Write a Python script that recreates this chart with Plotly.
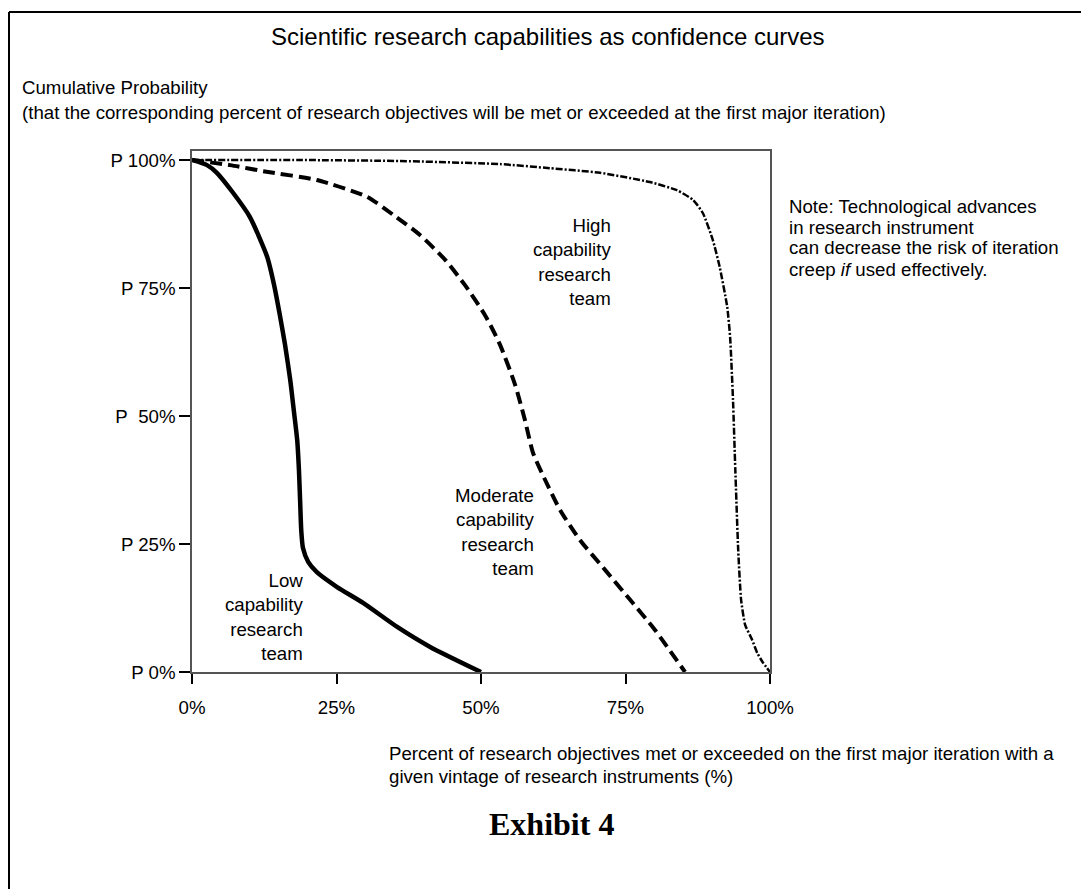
import plotly.graph_objects as go

# ---- data ----
low_x = [0, 2.6, 4.3, 7.1, 10.0, 13.0, 14.2, 15.2, 16.1, 17.0, 17.6, 18.2, 18.5, 18.7, 18.9, 19.2, 20.1, 21.6, 25.1, 29.6, 35.5, 41.2, 50.0]
low_y = [100, 99.0, 97.5, 93.6, 88.9, 81.1, 75.6, 69.7, 63.9, 57.0, 51.2, 45.3, 39.5, 33.6, 27.7, 24.2, 21.5, 19.5, 16.6, 13.5, 8.8, 4.9, 0]

mod_x = [0, 6.6, 12.9, 21.6, 30.3, 34.8, 39.4, 43.8, 47.2, 50.7, 53.3, 55.9, 57.6, 59.0, 61.1, 63.7, 67.1, 71.5, 75.8, 80.1, 85.3]
mod_y = [100, 99.0, 97.7, 96.1, 92.8, 89.3, 85.4, 80.5, 75.6, 69.7, 63.9, 56.1, 49.2, 42.8, 37.5, 31.6, 25.8, 19.9, 14.1, 8.2, 0]

high_x = [0, 18.7, 36.0, 53.3, 61.9, 70.6, 79.2, 83.9, 86.7, 88.4, 90.1, 91.3, 92.6, 93.1, 93.6, 94.0, 94.5, 95.0, 95.7, 96.9, 97.8, 98.8, 100]
high_y = [100, 100, 99.8, 99.2, 98.4, 97.5, 95.7, 94.1, 92.2, 89.6, 84.4, 79.1, 71.3, 65.4, 53.1, 39.5, 23.8, 14.1, 9.2, 6.3, 3.7, 1.8, 0]

x_ticks = [0, 25, 50, 75, 100]
x_tick_text = ["0%", "25%", "50%", "75%", "100%"]
y_ticks = [0, 25, 50, 75, 100]
y_tick_text = ["P 0%", "P 25%", "P\u00a0 50%", "P 75%", "P 100%"]

title_text = "Scientific research capabilities as confidence curves"
ylab_lines = ["Cumulative Probability",
              "(that the corresponding percent of research objectives will be met or exceeded at the first major iteration)"]
xlab_lines = ["Percent of research objectives met or exceeded on the first major iteration with a",
              "given vintage of research instruments (%)"]
note_lines = ["Note: Technological advances", "in research instrument",
              "can decrease the risk of iteration", "creep <i>if</i> used effectively."]
exhibit_text = "<b>Exhibit 4</b>"
label_high = "High<br>capability<br>research<br>team"
label_mod = "Moderate<br>capability<br>research<br>team"
label_low = "Low<br>capability<br>research<br>team"

# ---- layout geometry (screen pixels; page body has an 8px margin) ----
W, H = 1089, 889
OFF = 8
SL, SR, ST, SB = 192, 770, 151, 672          # plot box on screen
L, R, T, B = SL - OFF, SR - OFF, ST - OFF, SB - OFF
FONT = "Liberation Sans, Arial, sans-serif"
FS = 18.67


def px(x):
    return (x - SL) / (SR - SL)


def py(y):
    return (SB - y) / (SB - ST)


fig = go.Figure()
fig.add_trace(go.Scatter(x=high_x, y=high_y, mode="lines",
                         line=dict(color="black", width=2.5, dash="7px,2px,2px,2px", shape="spline", smoothing=0.5),
                         hoverinfo="skip"))
fig.add_trace(go.Scatter(x=mod_x, y=mod_y, mode="lines",
                         line=dict(color="black", width=4, dash="12px,6px", shape="spline", smoothing=0.6),
                         hoverinfo="skip"))
fig.add_trace(go.Scatter(x=low_x, y=low_y, mode="lines",
                         line=dict(color="black", width=4.5, shape="spline", smoothing=0.6),
                         hoverinfo="skip"))


def txt(text, x, y, xanchor="left", size=FS, align="left", family=None):
    f = dict(size=size, color="black")
    if family:
        f["family"] = family
    return dict(text=text, x=px(x), y=py(y), xref="paper", yref="paper", showarrow=False,
                xanchor=xanchor, yanchor="middle", align=align, font=f)


ann = [txt(title_text, 548, 36, xanchor="center", size=24)]
ann += [txt(ylab_lines[0], 20, 88), txt(ylab_lines[1], 20, 113)]
ann += [txt(xlab_lines[0], 387, 753), txt(xlab_lines[1], 387, 776)]
ann.append(txt(exhibit_text, 551, 824, xanchor="center", size=32,
               family="Liberation Serif, Times New Roman, serif"))
for i, line in enumerate(note_lines):
    ann.append(txt(line, 787, 206 + 21 * i))
ann.append(txt(label_high, 613, 262, xanchor="right", align="right"))
ann.append(txt(label_mod, 536, 532, xanchor="right", align="right"))
ann.append(txt(label_low, 305, 617, xanchor="right", align="right"))

shapes = [
    dict(type="line", xref="paper", yref="paper", x0=px(9), x1=px(9), y0=py(12), y1=py(H + 40),
         line=dict(color="black", width=2)),
    dict(type="line", xref="paper", yref="paper", x0=px(9), x1=px(W + 40), y0=py(12), y1=py(12),
         line=dict(color="black", width=2)),
]

fig.update_layout(
    width=W, height=H,
    margin=dict(l=L, r=W - R, t=T, b=H - B, pad=0),
    paper_bgcolor="white", plot_bgcolor="white",
    showlegend=False,
    font=dict(family=FONT, size=FS, color="black"),
    annotations=ann,
    shapes=shapes,
    xaxis=dict(range=[0, 100], tickvals=x_ticks, ticktext=x_tick_text, ticks="outside", ticklen=10, tickwidth=2,
               tickcolor="black", showline=True, linecolor="#555", linewidth=1.5, mirror=True, showgrid=False,
               zeroline=False, ticklabelstandoff=8, tickfont=dict(size=FS, color="black")),
    yaxis=dict(range=[0, 100 * (SB - ST) / (SB - 160)], tickvals=y_ticks, ticktext=y_tick_text, ticks="outside",
               ticklen=11, tickwidth=2, tickcolor="black", showline=True, linecolor="#555", linewidth=1.5,
               mirror=True, showgrid=False, zeroline=False, ticklabelstandoff=0,
               tickfont=dict(size=FS, color="black")),
)

fig.write_html("out.html")
